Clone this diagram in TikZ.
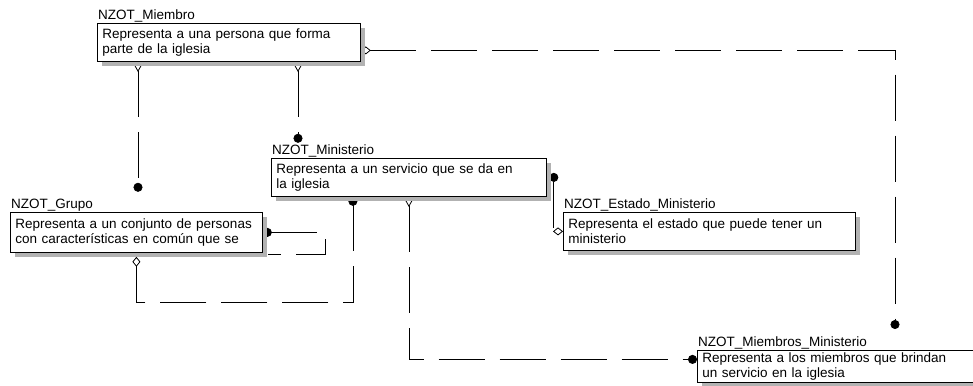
\documentclass[tikz,border=0pt]{standalone}
\usepackage{fontspec}
\setmainfont{Liberation Sans}
\usetikzlibrary{arrows.meta,shadows,backgrounds}

\begin{document}
\begin{tikzpicture}[x=1pt, y=-1pt,
  font=\fontsize{13.5}{15.5}\selectfont,
  ent/.style={draw, fill=white, line width=0.8pt, anchor=north west, align=left,
    inner xsep=5pt, inner ysep=1pt,
    drop shadow={shadow xshift=5pt, shadow yshift=-5pt, fill=gray!60, opacity=1}},
  tag/.style={anchor=south west, inner sep=1pt},
  rel/.style={line width=0.8pt, dash pattern=on 46pt off 15pt},
  crow/.tip={Straight Barb[reversed, length=9pt, width=10pt]},
  ball/.tip={Circle[length=9pt]},
  odia/.tip={Diamond[length=10pt, width=8pt, fill=white]}
]
\useasboundingbox (0,0) rectangle (973,385);
% entities
\node[ent, text width=253pt, minimum height=38pt,
  label={[tag]north west:NZOT\_Miembro}] (miem) at (97,23)
  {Representa a una persona que forma\\parte de la iglesia};
\node[ent, text width=242pt, minimum height=40pt,
  label={[tag]north west:NZOT\_Grupo}] (grp) at (10,212)
  {Representa a un conjunto de personas\\con características en común que se};
\node[ent, text width=265pt, minimum height=38pt,
  label={[tag]north west:NZOT\_Ministerio}] (min) at (271,158)
  {Representa a un servicio que se da en\\la iglesia};
\node[ent, text width=282pt, minimum height=38pt,
  label={[tag]north west:NZOT\_Estado\_Ministerio}] (est) at (563,212)
  {Representa el estado que puede tener un\\ministerio};
\node[ent, text width=290pt, minimum height=32pt,
  label={[tag]north west:NZOT\_Miembros\_Ministerio}] (mm) at (697,350)
  {Representa a los miembros que brindan\\un servicio en la iglesia};
% relations
\begin{scope}[on background layer]
\draw[rel, crow-ball] ([xshift=41pt]miem.south west) -- ++(0,130);
\draw[rel, crow-ball] ([xshift=201pt]miem.south west) -- ++(0,81);
\draw[rel, odia-ball] ([yshift=-8pt]miem.east) -| ([xshift=198pt,yshift=21pt]mm.north west);
\draw[rel, ball-odia] ([xshift=7pt,yshift=4.5pt]min.east) |- (est.west);
\draw[rel, ball-odia] ([xshift=-56pt]min.south) -- ++(0,106) -| ([yshift=-4pt]grp.south);
\draw[rel, crow-ball] (min.south) |- ([yshift=7pt]mm.west);
\draw[rel, ball-] (grp.east) -- ++(63,0) |- ([xshift=5pt,yshift=-2pt]grp.south east);
\end{scope}
\end{tikzpicture}
\end{document}
